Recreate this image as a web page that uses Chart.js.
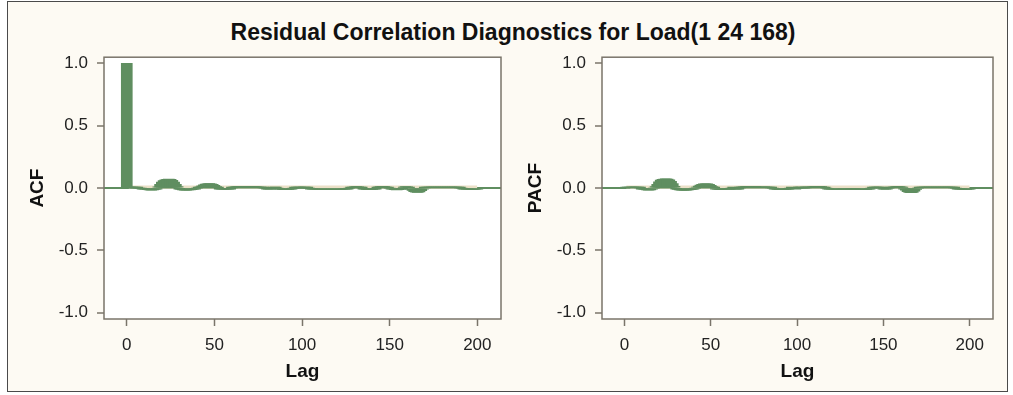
<!DOCTYPE html>
<html lang="en">
<head>
<meta charset="UTF-8">
<title>Residual Correlation Diagnostics</title>
<script src="https://cdn.jsdelivr.net/npm/chart.js"></script>
<style>
  body { margin: 0; background: #ffffff; font-family: "Liberation Sans", Arial, sans-serif; }
  .painel { position: absolute; left: 7px; top: 1px; width: 999px; height: 389px; background: #fdfaf3; border: 1.5px solid #4a4a4a; }
  .titulo { position: absolute; left: 0; width: 1026px; top: 19px; text-align: center; font-weight: bold; font-size: 23px; color: #111; }
  canvas { position: absolute; }
  #grafico_acf { left: 8px; top: 38px; }
  #grafico_pacf { left: 506px; top: 38px; }
</style>
</head>
<body>
<div class="painel"></div>
<div class="titulo">Residual Correlation Diagnostics for Load(1 24 168)</div>
<canvas id="grafico_acf" width="500" height="352"></canvas>
<canvas id="grafico_pacf" width="500" height="352"></canvas>

<script>
// lags 0..200
var lags = [];
for (var i = 0; i <= 200; i++) lags.push(i);

var acf = [
  1.0, 0.004, 0.003, 0.002, 0.002, 0.001, 0.001, 0.000, 0.000, -0.002,
  -0.004, -0.008, -0.012, -0.015, -0.016, -0.014, -0.010, -0.004, 0.010, 0.030,
  0.048, 0.060, 0.067, 0.071, 0.073, 0.070, 0.062, 0.048, 0.030, 0.012,
  -0.002, -0.010, -0.014, -0.016, -0.016, -0.015, -0.014, -0.012, -0.008, -0.004,
  0.000, 0.004, 0.010, 0.018, 0.026, 0.032, 0.035, 0.036, 0.034, 0.030,
  0.022, 0.012, 0.004, -0.002, -0.006, -0.008, -0.008, -0.006, -0.004, -0.002,
  0.002, 0.006, 0.010, 0.012, 0.013, 0.012, 0.010, 0.012, 0.014, 0.013,
  0.012, 0.010, 0.012, 0.013, 0.011, 0.009, 0.006, 0.004, 0.002, 0.000,
  -0.002, -0.003, -0.002, 0.000, 0.002, 0.002, 0.000, -0.004, -0.008, -0.010,
  -0.012, -0.012, -0.010, -0.008, -0.004, 0.000, 0.002, 0.003, 0.002, 0.001,
  0.000, 0.002, 0.003, 0.002, 0.000, -0.002, -0.004, -0.006, -0.008, -0.009,
  -0.010, -0.011, -0.012, -0.010, -0.008, -0.010, -0.012, -0.011, -0.009, -0.008,
  -0.010, -0.012, -0.010, -0.008, -0.006, -0.004, -0.002, 0.000, 0.004, 0.008,
  0.010, 0.012, 0.010, 0.006, 0.002, -0.002, -0.006, -0.010, -0.012, -0.012,
  -0.010, -0.006, -0.002, 0.004, 0.010, 0.013, 0.014, 0.012, 0.008, 0.004,
  0.000, -0.004, -0.008, -0.012, -0.014, -0.012, -0.008, -0.002, 0.006, 0.012,
  0.010, 0.004, -0.006, -0.018, -0.028, -0.032, -0.034, -0.030, -0.020, -0.008,
  0.002, 0.004, 0.006, 0.006, 0.006, 0.005, 0.004, 0.004, 0.005, 0.006,
  0.006, 0.005, 0.004, 0.004, 0.005, 0.006, 0.005, 0.004, 0.004, 0.003,
  0.002, 0.000, -0.002, -0.004, -0.006, -0.008, -0.009, -0.010, -0.010, -0.008,
  -0.006
];

var pacf = [
  0.000, 0.006, 0.008, 0.008, 0.007, 0.006, 0.006, 0.005, 0.004, 0.002,
  -0.002, -0.006, -0.010, -0.014, -0.016, -0.014, -0.008, 0.000, 0.012, 0.030,
  0.050, 0.064, 0.070, 0.073, 0.074, 0.072, 0.066, 0.054, 0.036, 0.014,
  -0.002, -0.010, -0.014, -0.016, -0.017, -0.017, -0.016, -0.014, -0.012, -0.010,
  -0.006, 0.000, 0.008, 0.016, 0.024, 0.030, 0.034, 0.035, 0.034, 0.030,
  0.022, 0.012, 0.004, -0.004, -0.008, -0.010, -0.010, -0.009, -0.008, -0.006,
  -0.004, -0.002, 0.000, 0.002, -0.002, -0.004, -0.002, 0.002, 0.006, 0.010,
  0.012, 0.013, 0.012, 0.010, 0.012, 0.013, 0.012, 0.008, 0.004, 0.006,
  0.009, 0.010, 0.008, 0.006, 0.004, 0.002, 0.000, -0.004, -0.008, -0.011,
  -0.012, -0.013, -0.012, -0.010, -0.006, -0.002, 0.000, 0.001, 0.000, -0.001,
  0.000, 0.001, 0.002, 0.001, 0.000, 0.002, 0.004, 0.006, 0.008, 0.010,
  0.012, 0.014, 0.015, 0.014, 0.012, 0.008, 0.004, 0.000, -0.004, -0.006,
  -0.008, -0.008, -0.007, -0.008, -0.009, -0.008, -0.006, -0.006, -0.007, -0.008,
  -0.008, -0.006, -0.004, -0.004, -0.006, -0.008, -0.010, -0.011, -0.012, -0.011,
  -0.010, -0.008, -0.004, 0.000, 0.004, 0.008, 0.009, 0.008, 0.004, 0.000,
  -0.004, -0.005, -0.004, 0.000, 0.004, 0.006, 0.008, 0.010, 0.012, 0.012,
  0.010, 0.006, -0.004, -0.016, -0.028, -0.034, -0.036, -0.034, -0.024, -0.010,
  0.000, 0.004, 0.006, 0.006, 0.005, 0.005, 0.006, 0.006, 0.005, 0.004,
  0.004, 0.005, 0.006, 0.006, 0.005, 0.004, 0.004, 0.005, 0.005, 0.004,
  0.003, 0.002, 0.000, -0.002, -0.004, -0.006, -0.008, -0.010, -0.010, -0.009,
  -0.006
];

// faixa de erro padrao (bem estreita perto do zero)
var bandaLags = [1, 200];
var bandaSup = [0.02, 0.02];
var bandaInf = [-0.004, -0.004];

var lagTicks = [0, 50, 100, 150, 200];
var yTicks = [-1.0, -0.5, 0.0, 0.5, 1.0];

var corBarra = '#5f8e60';
var corMoldura = '#7a746a';

var moldura = {
  id: 'moldura',
  afterDraw: function (chart) {
    var a = chart.chartArea;
    var ctx = chart.ctx;
    ctx.save();
    ctx.strokeStyle = corMoldura;
    ctx.lineWidth = 1.5;
    ctx.strokeRect(a.left, a.top, a.right - a.left, a.bottom - a.top);
    ctx.restore();
  }
};

var fundoBranco = {
  id: 'fundoBranco',
  beforeDraw: function (chart) {
    var a = chart.chartArea;
    chart.ctx.save();
    chart.ctx.fillStyle = '#ffffff';
    chart.ctx.fillRect(a.left, a.top, a.right - a.left, a.bottom - a.top);
    chart.ctx.restore();
  }
};

function montarGrafico(idCanvas, valores, tituloY, padDireita) {
  var ctx = document.getElementById(idCanvas).getContext('2d');
  return new Chart(ctx, {
    type: 'bar',
    data: {
      datasets: [
        {
          type: 'bar',
          label: tituloY,
          data: lags.map(function (l, i) { return { x: l, y: valores[i] }; }),
          backgroundColor: corBarra,
          borderWidth: 0,
          barThickness: 11,
          order: 1
        },
        {
          type: 'line',
          label: 'sup',
          data: bandaLags.map(function (l, i) { return { x: l, y: bandaSup[i] }; }),
          borderWidth: 0,
          pointRadius: 0,
          backgroundColor: '#ebe0c8',
          fill: '+1',
          order: 2
        },
        {
          type: 'line',
          label: 'inf',
          data: bandaLags.map(function (l, i) { return { x: l, y: bandaInf[i] }; }),
          borderWidth: 0,
          pointRadius: 0,
          fill: false,
          order: 2
        }
      ]
    },
    options: {
      responsive: false,
      animation: false,
      devicePixelRatio: 1,
      layout: { padding: { top: 15, right: padDireita, left: 0, bottom: 0 } },
      plugins: { legend: { display: false }, tooltip: { enabled: false } },
      scales: {
        x: {
          type: 'linear',
          min: -13,
          max: 213.5,
          offset: false,
          afterBuildTicks: function (s) { s.ticks = lagTicks.map(function (v) { return { value: v }; }); },
          afterFit: function (s) { s.height = 71; },
          grid: { drawOnChartArea: false, drawTicks: true, tickLength: 7, tickColor: corMoldura, tickWidth: 1.5, offset: false },
          border: { display: false },
          ticks: { color: '#222', font: { family: 'Liberation Sans', size: 17 }, padding: 9, maxRotation: 0 },
          title: { display: true, text: 'Lag', color: '#111', font: { family: 'Liberation Sans', size: 19, weight: 'bold' }, padding: { top: 0, bottom: 7 } }
        },
        y: {
          min: -1.05,
          max: 1.05,
          afterBuildTicks: function (s) { s.ticks = yTicks.map(function (v) { return { value: v }; }); },
          afterFit: function (s) { s.width = 96; },
          grid: {
            drawOnChartArea: true,
            color: function (c) { return c.tick && c.tick.value === 0 ? corBarra : 'rgba(0,0,0,0)'; },
            lineWidth: 2,
            tickColor: corMoldura,
            tickWidth: 1.5,
            tickLength: 7
          },
          border: { display: false },
          ticks: {
            color: '#222',
            font: { family: 'Liberation Sans', size: 17 },
            padding: 9,
            callback: function (v) { return Number(v).toFixed(1); }
          },
          title: { display: true, text: tituloY, color: '#111', font: { family: 'Liberation Sans', size: 19, weight: 'bold' }, padding: { top: 18, bottom: 0 } }
        }
      }
    },
    plugins: [fundoBranco, moldura]
  });
}

montarGrafico('grafico_acf', acf, 'ACF', 7);
montarGrafico('grafico_pacf', pacf, 'PACF', 13);
</script>
</body>
</html>
